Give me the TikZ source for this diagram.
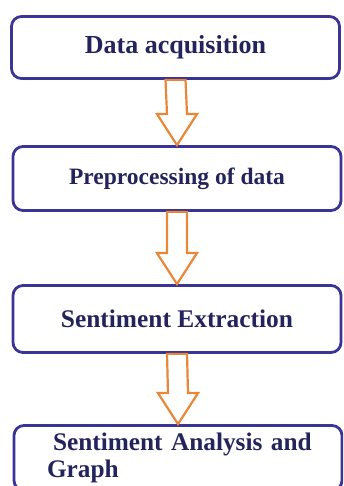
\documentclass[tikz,border=0pt]{standalone}
\usepackage{fontspec}
\setmainfont{Liberation Serif}
\usetikzlibrary{calc}

\definecolor{stageblue}{RGB}{58,52,150}
\definecolor{stagetext}{RGB}{36,36,92}
\definecolor{flowarrow}{RGB}{232,135,55}

\tikzset{
  stage/.style={draw=stageblue,line width=2.8pt,rounded corners=10pt,fill=white,
    minimum width=328pt,text=stagetext},
  hollowarrow/.style={draw=flowarrow,line width=2.2pt,fill=white,line join=miter}
}
% block arrow from the bottom of #1 down to the top of #2
\newcommand{\stagearrow}[2]{%
  \draw[hollowarrow] ($(#1.south)+(-10pt,0)$) -- ($(#1.south)+(10pt,0)$)
    -- ($(#2.north)+(10pt,31pt)$) -- ($(#2.north)+(20pt,31pt)$) -- (#2.north)
    -- ($(#2.north)+(-20pt,31pt)$) -- ($(#2.north)+(-10pt,31pt)$) -- cycle;}

\begin{document}
\begin{tikzpicture}[x=1pt,y=1pt]
  \useasboundingbox (0,0) rectangle (343,486);
  \clip (0,0) rectangle (343,486);
  \node[stage,minimum height=62pt,font=\bfseries\fontsize{26}{28}\selectfont] (acq) at (175.5,438.5) {Data acquisition};
  \node[stage,minimum height=64pt,font=\bfseries\fontsize{23.5}{26}\selectfont] (prep) at (177,307.5) {Preprocessing of data};
  \node[stage,minimum height=67pt,font=\bfseries\fontsize{25.4}{28}\selectfont] (extr) at (177,167) {Sentiment Extraction};
  \node[stage,minimum height=65pt,text width=300pt,inner xsep=14pt,align=left,font=\bfseries\fontsize{25.3}{27}\selectfont] (anal) at (178,28) {\hspace*{25pt}Sentiment Analysis and\\\hspace*{19pt}Graph};
  \stagearrow{acq}{prep}
  \stagearrow{prep}{extr}
  \stagearrow{extr}{anal}
\end{tikzpicture}
\end{document}
